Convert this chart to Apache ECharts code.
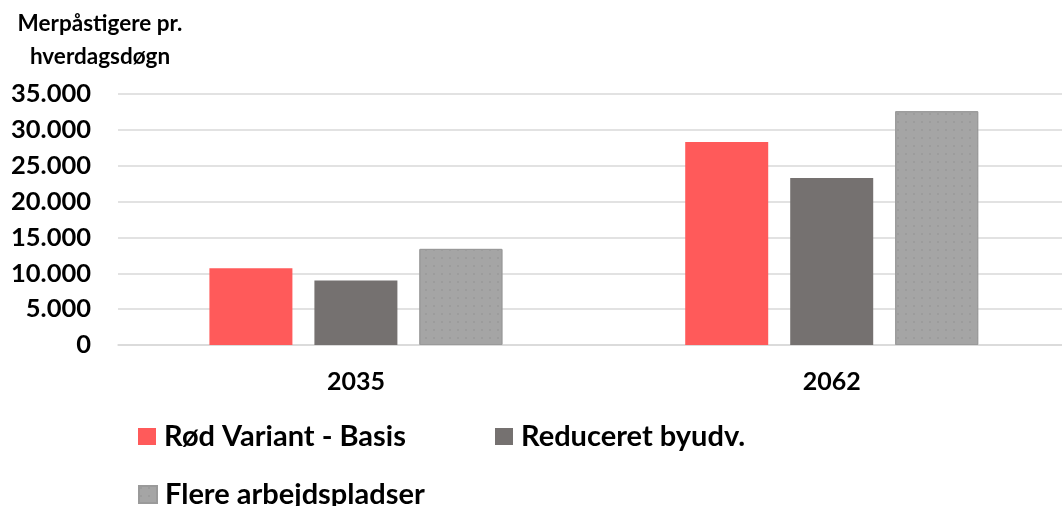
<!DOCTYPE html>
<html>
<head>
<meta charset="utf-8">
<script src="https://cdn.jsdelivr.net/npm/echarts@6/dist/echarts.min.js"></script>
<style>
  html, body { margin: 0; padding: 0; background: #fff; }
  #chart { width: 1062px; height: 506px; }
</style>
</head>
<body>
<div id="chart"></div>
<script>
const years = ['2035', '2062'];
const seriesNames = ['Rød Variant - Basis', 'Reduceret byudv.', 'Flere arbejdspladser'];
const rodBasis = [10700, 28300];
const reduceret = [9000, 23300];
const flereArb = [13400, 32600];
const yTicks = [0, 5000, 10000, 15000, 20000, 25000, 30000, 35000];
const colors = ['#FF5A5A', '#757170', '#A5A5A5'];

const FONT = 'Lato';
const chart = echarts.init(document.getElementById('chart'));

// thousands with a dot, like the Danish source
const fmt = v => v === 0 ? '0' : String(v).replace(/\B(?=(\d{3})+(?!\d))/g, '.');
// bars sit on the index of their year
const toPoints = arr => arr.map((v, i) => [i, v]);

const legendText = { fontFamily: FONT, fontWeight: 'bold', fontSize: 29, color: '#000', padding: [0, 0, 0, 3] };
const legendBase = { icon: 'rect', itemWidth: 18, itemHeight: 17, padding: 0, textStyle: legendText };

chart.setOption({
  animation: false,
  color: colors,
  textStyle: { fontFamily: FONT },
  graphic: [{
    type: 'text',
    x: 100,
    y: 7,
    style: {
      text: 'Merpåstigere pr.\nhverdagsdøgn',
      fontFamily: FONT,
      fontWeight: 'bold',
      fontSize: 22.5,
      lineHeight: 33,
      align: 'center',
      verticalAlign: 'top',
      fill: '#000'
    }
  }],
  legend: [
    Object.assign({ data: [seriesNames[0]], left: 138, top: 422 }, legendBase),
    Object.assign({ data: [seriesNames[1]], left: 495, top: 422 }, legendBase),
    Object.assign({ data: [seriesNames[2]], left: 138, top: 480 }, legendBase)
  ],
  grid: { left: 118, top: 94, right: 0, height: 251 },
  xAxis: {
    type: 'value',
    min: -0.5,
    max: 1.484,
    axisLine: { show: true, onZero: false, lineStyle: { color: '#D9D9D9', width: 1.5 } },
    axisTick: { show: false },
    splitLine: { show: false },
    axisLabel: {
      customValues: years.map((y, i) => i),
      formatter: v => years[v],
      margin: 24,
      fontFamily: FONT,
      fontWeight: 'bold',
      fontSize: 25,
      color: '#000'
    }
  },
  yAxis: {
    type: 'value',
    min: yTicks[0],
    max: yTicks[yTicks.length - 1],
    interval: yTicks[1] - yTicks[0],
    axisLine: { show: false },
    axisTick: { show: false },
    splitLine: { lineStyle: { color: '#D9D9D9', width: 1.5 } },
    axisLabel: {
      margin: 27,
      formatter: fmt,
      fontFamily: FONT,
      fontWeight: 'bold',
      fontSize: 25.5,
      color: '#000'
    }
  },
  series: [
    { name: seriesNames[0], type: 'bar', data: toPoints(rodBasis), barWidth: 83, barGap: '26.5%' },
    { name: seriesNames[1], type: 'bar', data: toPoints(reduceret), barWidth: 83, barGap: '26.5%' },
    {
      name: seriesNames[2], type: 'bar', data: toPoints(flereArb), barWidth: 83, barGap: '26.5%',
      itemStyle: {
        borderColor: '#9A9A9A',
        borderWidth: 1,
        decal: { symbol: 'circle', symbolSize: 0.4, dashArrayX: 4, dashArrayY: 4, color: 'rgba(130,130,130,0.5)' }
      }
    }
  ]
});
</script>
</body>
</html>
